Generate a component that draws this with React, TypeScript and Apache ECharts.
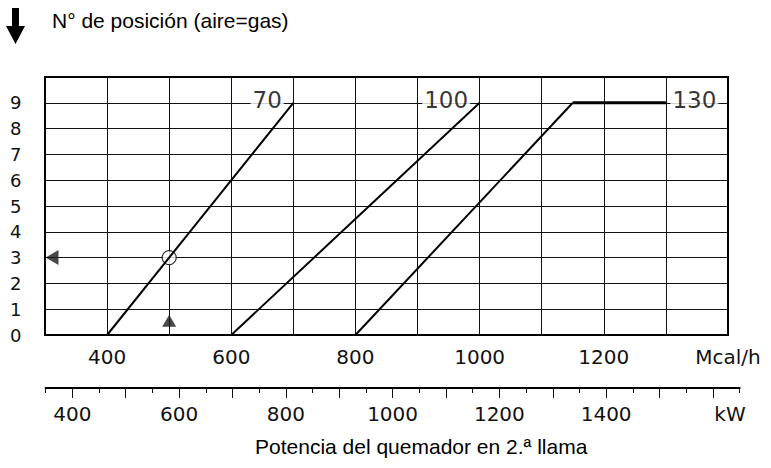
import React, { useEffect, useRef } from "react";
import * as echarts from "echarts";

// ---- data ----
const positionTicks = [0, 1, 2, 3, 4, 5, 6, 7, 8, 9];
const mcalLabelValues = [400, 600, 800, 1000, 1200];
const mcalUnitAt = 1400;
const kwLabelValues = [400, 600, 800, 1000, 1200, 1400];
const kwLongTicks = [400, 500, 600, 700, 800, 900, 1000, 1100, 1200, 1300, 1400, 1500, 1600];
const curve70 = [[400, 0], [700, 9]];
const curve100 = [[600, 0], [1000, 9]];
const curve130 = [[800, 0], [1150, 9]];
const curve130Plateau = [[1150, 9], [1300, 9]];
const curveLabelNames = ["70", "100", "130"];
const curveLabelPoints = [[700, 9], [1000, 9], [1300, 9]];
const operatingPoint = [[500, 3]];
const positionMarker = [[300, 3]];
const powerMarker = [[500, 0.55]];

const CAD = "'DejaVu Sans', sans-serif";
const SANS = "'Liberation Sans', Arial, sans-serif";
const INK = "#111";

export default function App() {
  const ref = useRef<HTMLDivElement>(null);
  useEffect(() => {
    if (!ref.current) return;
    const chart = echarts.init(ref.current, undefined, { renderer: "svg" });
    const lineSeries = (data: number[][], width: number) => ({
      type: "line",
      xAxisIndex: 0,
      yAxisIndex: 0,
      data,
      symbol: "none",
      lineStyle: { color: "#000", width },
      z: 5,
      silent: true,
    });
    const option: any = {
      animation: false,
      backgroundColor: "#fff",
      grid: [
        { left: 45, right: 43, top: 77, bottom: 133, show: true, borderColor: "#000", borderWidth: 2, backgroundColor: "transparent", z: 6 },
        { left: 45.6, right: 31.4, top: 300, bottom: 80, show: false },
      ],
      xAxis: [
        {
          gridIndex: 0, type: "value", min: 300, max: 1400, interval: 100,
          axisLine: { show: false }, axisTick: { show: false },
          splitLine: { show: true, lineStyle: { color: INK, width: 1 } },
          axisLabel: {
            interval: 0, showMinLabel: true, showMaxLabel: true, margin: 12,
            fontFamily: CAD, fontSize: 20, color: INK,
            formatter: (v: number) => (v === mcalUnitAt ? "Mcal/h" : mcalLabelValues.includes(v) ? String(v) : ""),
          },
        },
        {
          gridIndex: 1, type: "value", min: 350, max: 1650, interval: 50, position: "bottom",
          axisLine: { show: true, lineStyle: { color: "#000", width: 2 } },
          axisTick: { show: true, length: 5, lineStyle: { color: INK, width: 1 } },
          splitLine: { show: false },
          axisLabel: {
            interval: 0, margin: 16, fontFamily: CAD, fontSize: 20, color: INK,
            formatter: (v: number) => (kwLabelValues.includes(v) ? String(v) : ""),
          },
        },
        {
          gridIndex: 1, type: "value", min: 350, max: 1650, position: "bottom",
          axisLine: { show: false },
          axisTick: { show: true, length: 10, customValues: kwLongTicks, lineStyle: { color: INK, width: 1 } },
          splitLine: { show: false },
          axisLabel: { show: false },
        },
      ],
      yAxis: [
        {
          gridIndex: 0, type: "value", min: 0, max: 10, interval: 1,
          axisLine: { show: false }, axisTick: { show: false },
          splitLine: { show: true, lineStyle: { color: INK, width: 1 } },
          axisLabel: {
            interval: 0, margin: 35, align: "left", fontFamily: CAD, fontSize: 18, color: INK,
            formatter: (v: number) => (positionTicks.includes(v) ? String(v) : ""),
          },
        },
        { gridIndex: 1, type: "value", min: 0, max: 1, show: false },
      ],
      series: [
        lineSeries(curve70, 2),
        lineSeries(curve100, 2),
        lineSeries(curve130, 2),
        lineSeries(curve130Plateau, 3),
        {
          type: "scatter", xAxisIndex: 0, yAxisIndex: 0, z: 3, silent: true,
          symbolSize: 1, itemStyle: { color: "transparent" },
          data: curveLabelPoints.map((p, i) => ({
            value: p,
            name: curveLabelNames[i],
            label: {
              show: true,
              position: i === 2 ? "right" : "left",
              distance: i === 2 ? 4 : 9,
              offset: [0, -3],
              formatter: "{b}",
              fontFamily: CAD, fontSize: 23, color: "#000",
              backgroundColor: "#fff", padding: [0, 2],
            },
          })),
        },
        {
          type: "scatter", xAxisIndex: 0, yAxisIndex: 0, z: 4, silent: true, clip: false,
          symbol: "circle", symbolSize: 14,
          itemStyle: { color: "#fff", borderColor: "#000", borderWidth: 1.2 },
          data: operatingPoint,
        },
        {
          type: "scatter", xAxisIndex: 0, yAxisIndex: 0, z: 7, silent: true, clip: false,
          symbol: "triangle", symbolSize: [15, 13], symbolRotate: 90, symbolOffset: [7, 0],
          itemStyle: { color: "#1a1a1a" },
          data: positionMarker,
        },
        {
          type: "scatter", xAxisIndex: 0, yAxisIndex: 0, z: 7, silent: true, clip: false,
          symbol: "triangle", symbolSize: [14, 12],
          itemStyle: { color: "#1a1a1a" },
          data: powerMarker,
        },
      ],
      graphic: [
        {
          type: "polygon",
          shape: { points: [[12, 8], [19, 8], [19, 26], [25, 26], [15.5, 44], [6, 26], [12, 26]] },
          style: { fill: "#000" },
        },
        {
          type: "text", x: 52, y: 20,
          style: { text: "N° de posición (aire=gas)", fontSize: 21, fontFamily: SANS, fill: "#000", align: "left", verticalAlign: "middle", textAlign: "left", textVerticalAlign: "middle" },
        },
        {
          type: "text", x: 730, y: 414,
          style: { text: "kW", fontSize: 20, fontFamily: CAD, fill: INK, align: "center", verticalAlign: "middle", textAlign: "center", textVerticalAlign: "middle" },
        },
        {
          type: "text", x: 255, y: 446,
          style: { text: "Potencia del quemador en 2.ª llama", fontSize: 21, fontFamily: SANS, fill: "#000", align: "left", verticalAlign: "middle", textAlign: "left", textVerticalAlign: "middle" },
        },
      ],
    };
    chart.setOption(option);
    return () => chart.dispose();
  }, []);
  return <div ref={ref} style={{ position: "fixed", left: 0, top: 0, width: 771, height: 468 }} />;
}
